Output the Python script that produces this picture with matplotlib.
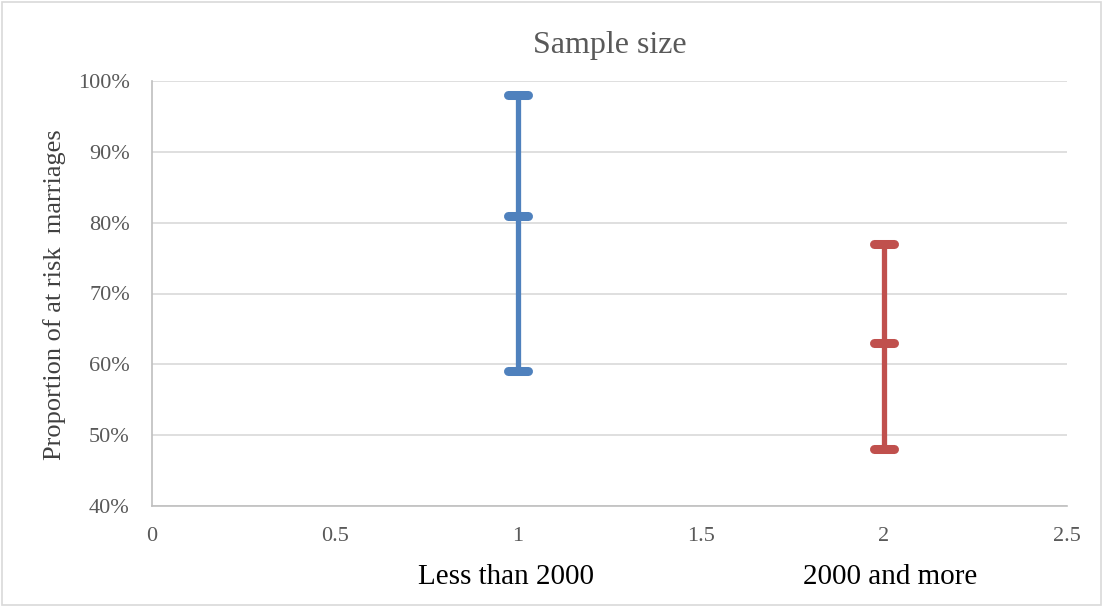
import matplotlib.pyplot as plt
from matplotlib.patches import Rectangle
from matplotlib.ticker import FuncFormatter
import matplotlib.transforms as mtransforms

# ----- Datos -----
groups = ["Less than 2000", "2000 and more"]
group_x = [1, 2]
low = [0.59, 0.48]
mid = [0.81, 0.63]
high = [0.98, 0.77]
colors = ["#4F81BD", "#C0504D"]

plt.rcParams['font.family'] = ['Liberation Serif', 'DejaVu Serif']

fig = plt.figure(figsize=(11.04, 6.07), dpi=100)
ax = fig.add_axes([152 / 1104, 1 - 506 / 607, 915 / 1104, 425 / 607])

cap_half = 0.028
for x, lo, md, hi, c in zip(group_x, low, mid, high, colors):
    ax.vlines(x, lo, hi, color=c, linewidth=3.8, zorder=3)
    ax.hlines([lo, md, hi], x - cap_half, x + cap_half, color=c,
              linewidth=6.5, capstyle='round', zorder=4)

ax.set_xlim(0, 2.5)
ax.set_ylim(0.4, 1.0)
ax.set_xticks([0, 0.5, 1, 1.5, 2, 2.5])
ax.set_xticklabels(["0", "0.5", "1", "1.5", "2", "2.5"])
ax.set_yticks([0.4, 0.5, 0.6, 0.7, 0.8, 0.9, 1.0])
ax.yaxis.set_major_formatter(FuncFormatter(lambda v, _: f"{v * 100:.0f}%"))

ax.tick_params(length=0, labelsize=16, colors="#595959")
ax.tick_params(axis='y', pad=16)
ax.tick_params(axis='x', pad=15)
ax.grid(axis='y', color="#D9D9D9", linewidth=1.2)
ax.set_axisbelow(True)
for s in ["top", "right"]:
    ax.spines[s].set_visible(False)
for s in ["left", "bottom"]:
    ax.spines[s].set_color("#BFBFBF")
    ax.spines[s].set_linewidth(1.2)

ax.set_title("Sample size", fontsize=23, color="#595959", pad=20)
ax.set_ylabel("Proportion of at risk  marriages", fontsize=19, color="#404040")
ax.yaxis.set_label_coords(66 / 1104, 0.515, transform=fig.transFigure)

# Etiquetas de grupo bajo el eje
trans = mtransforms.blended_transform_factory(ax.transData, fig.transFigure)
label_dx = [-0.033, 0.016]
for x, dx, name in zip(group_x, label_dx, groups):
    ax.text(x + dx, 1 - 577 / 607, name, transform=trans, ha='center', va='center',
            fontsize=21, color="black")

# Marco exterior
fig.patches.append(Rectangle((0.002, 0.004), 0.995, 0.993, transform=fig.transFigure,
                             fill=False, edgecolor="#D9D9D9", linewidth=1.2))

fig.savefig("out.png", dpi=100)
